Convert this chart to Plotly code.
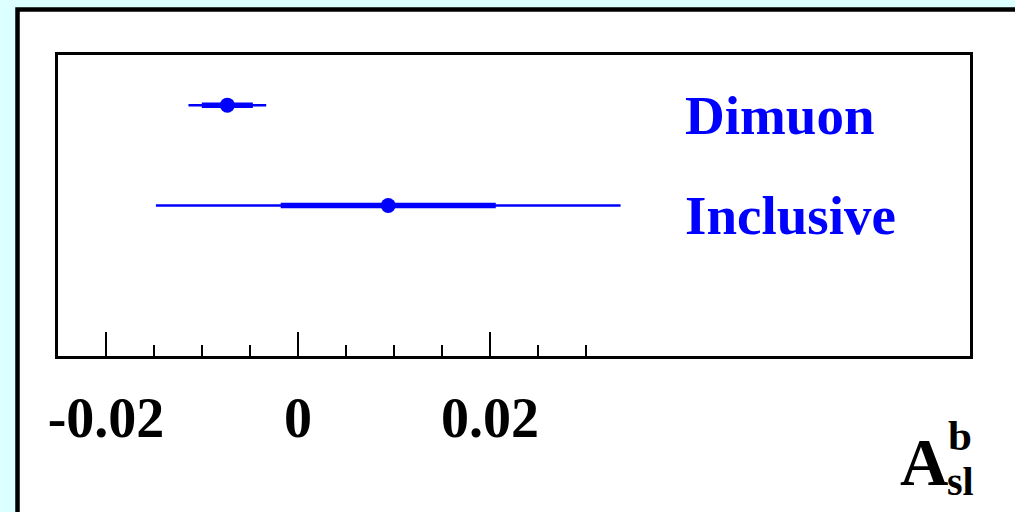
import plotly.graph_objects as go

# Data
measurements = ["Dimuon", "Inclusive"]
central = [-0.00736, 0.0094]
err_stat = [0.00266, 0.0112]
err_total = [0.00405, 0.0242]

major_ticks = [-0.02, 0.0, 0.02]
major_labels = ["-0.02", "0", "0.02"]
minor_ticks = [-0.015, -0.01, -0.005, 0.005, 0.01, 0.015, 0.025, 0.03]

BLUE = "#0000ff"
SERIF = "Liberation Serif"

fig = go.Figure()
# total error (thin)
fig.add_trace(go.Scatter(
    x=central, y=measurements, mode="markers",
    marker=dict(size=1, color=BLUE, opacity=0),
    error_x=dict(type="data", array=err_total, symmetric=True,
                 color=BLUE, thickness=2.5, width=0),
    showlegend=False, hoverinfo="skip"))
# statistical error (thick) + central value
fig.add_trace(go.Scatter(
    x=central, y=measurements, mode="markers",
    marker=dict(size=15, color=BLUE, symbol="circle"),
    error_x=dict(type="data", array=err_stat, symmetric=True,
                 color=BLUE, thickness=5.5, width=0),
    showlegend=False))

annotations = []
for name in measurements:
    annotations.append(dict(
        x=0.0401, y=name, xref="x", yref="y", text=name, showarrow=False,
        xanchor="left", yanchor="middle", yshift=-10,
        font=dict(family=SERIF, size=55, color=BLUE, weight="bold")))

annotations += [
    dict(x=0.9496, y=-0.3538, xref="paper", yref="paper", text="A",
         showarrow=False, xanchor="center", yanchor="middle",
         font=dict(family=SERIF, size=67, color="black", weight="bold")),
    dict(x=0.989, y=-0.2625, xref="paper", yref="paper", text="b",
         showarrow=False, xanchor="center", yanchor="middle",
         font=dict(family=SERIF, size=43, color="black", weight="bold")),
    dict(x=0.9895, y=-0.4186, xref="paper", yref="paper", text="sl",
         showarrow=False, xanchor="center", yanchor="middle",
         font=dict(family=SERIF, size=40, color="black", weight="bold")),
]

fig.update_layout(
    width=1015, height=512,
    template="none",
    paper_bgcolor="#dcffff",
    plot_bgcolor="white",
    margin=dict(l=58, r=45, t=55, b=156, autoexpand=False),
    shapes=[dict(type="rect", xref="paper", yref="paper",
                 x0=-0.0444, x1=1.3, y0=-0.8, y1=1.1512,
                 line=dict(color="black", width=4.5), fillcolor="white",
                 layer="below")],
    annotations=annotations,
    xaxis=dict(range=[-0.025, 0.07], showgrid=False, zeroline=False,
               showline=True, linecolor="black", linewidth=3, mirror=True,
               ticks="inside", tickmode="array", tickvals=major_ticks,
               ticktext=major_labels, ticklen=24, tickwidth=1.5,
               tickcolor="black", ticklabelstandoff=11,
               tickfont=dict(family=SERIF, size=56, color="black", weight="bold"),
               minor=dict(tickmode="array", tickvals=minor_ticks, ticks="inside",
                          ticklen=11, tickwidth=1.5, tickcolor="black",
                          showgrid=False),
               automargin=False, fixedrange=True),
    yaxis=dict(type="category", categoryarray=["Inclusive", "Dimuon"],
               range=[-1.5, 1.5], showgrid=False, zeroline=False,
               showline=True, linecolor="black", linewidth=3, mirror=True,
               ticks="", showticklabels=False, automargin=False,
               fixedrange=True),
)

fig.write_html("out.html",
               config={"displayModeBar": False},
               post_script="document.body.style.margin='0';"
                           "document.body.style.overflow='hidden';")
